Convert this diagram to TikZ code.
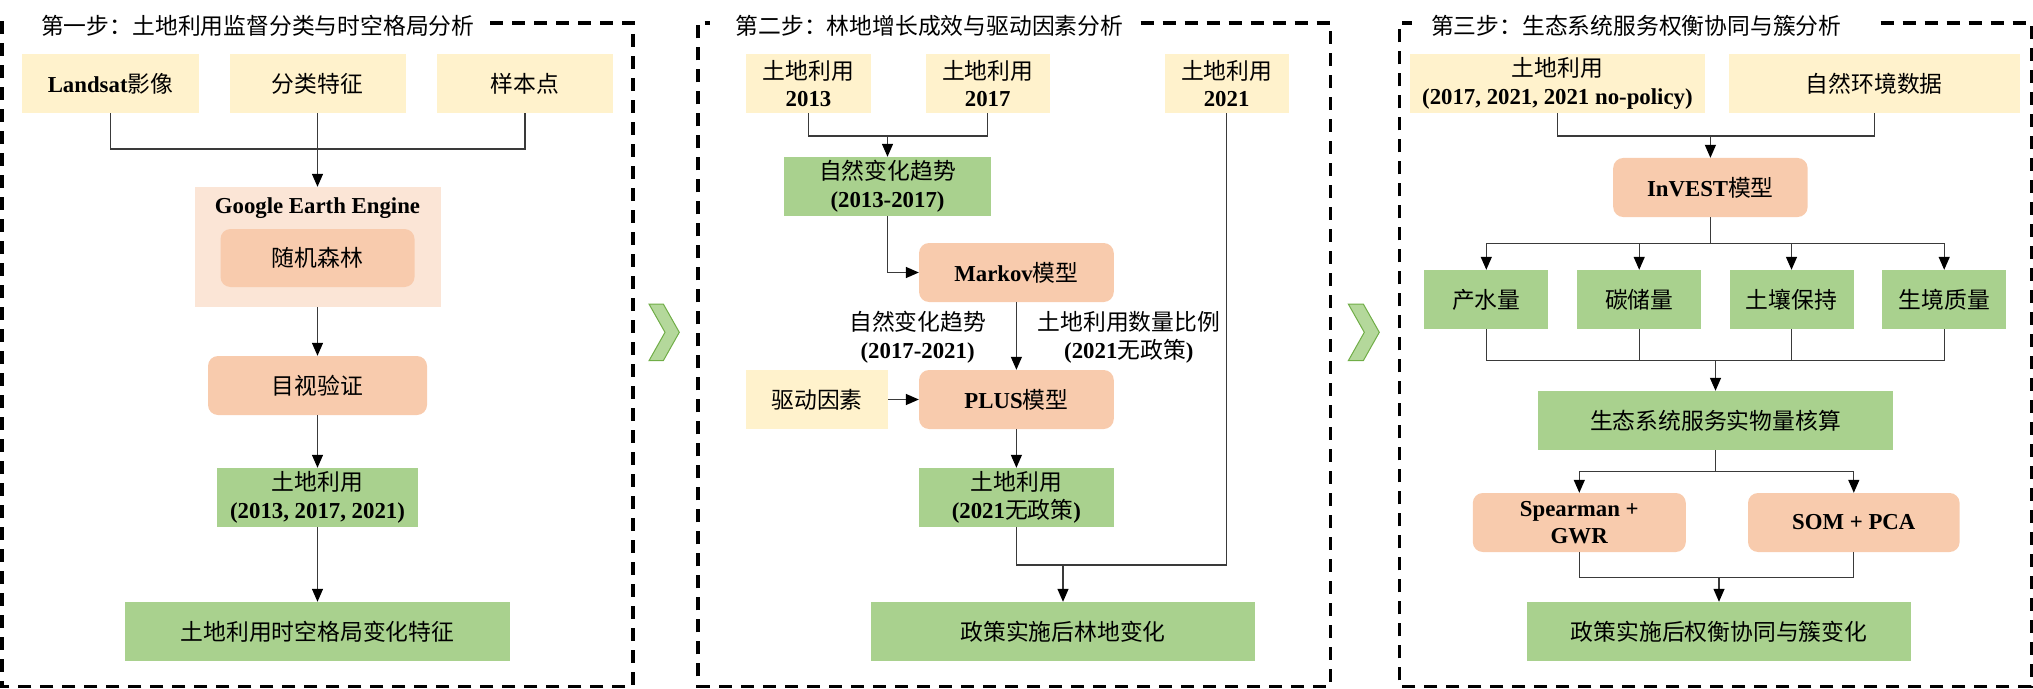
\documentclass[tikz,border=0pt]{standalone}
\usepackage{fontspec}
\setmainfont{Liberation Serif}
\newfontfamily\cjk{Noto Sans CJK SC}
\usetikzlibrary{arrows.meta}
\newcommand\zh[1]{{\cjk #1}}
\newcommand\fs{\fontsize{22.8bp}{27.7bp}\selectfont}
\definecolor{cyellow}{HTML}{FFF2CC}
\definecolor{cpeach}{HTML}{F8CBAD}
\definecolor{clpeach}{HTML}{FBE5D6}
\definecolor{cgreen}{HTML}{A9D18E}
\definecolor{cchevfill}{HTML}{B4D89B}
\definecolor{cchevline}{HTML}{70AD47}
\definecolor{cline}{HTML}{3A3A3A}
\tikzset{
 base/.style={inner sep=0pt, align=center, font=\fs, minimum height=59bp},
 ybox/.style={base, fill=cyellow},
 gbox/.style={base, fill=cgreen},
 pbox/.style={base, fill=cpeach, rounded corners=10bp},
 conn/.style={draw=cline, line width=1.3bp},
 arr/.style={conn, -{Triangle[width=11bp,length=13bp,color=black]}},
 frame/.style={draw=black, line width=3.3bp, dash pattern=on 13bp off 9bp},
 ttl/.style={anchor=west, inner sep=0pt, font=\fs\cjk},
 lbl/.style={inner sep=0pt, align=center, font=\fs},
 chev/.style={fill=cchevfill, draw=cchevline, line width=1bp, line join=miter},
}
\begin{document}
\begin{tikzpicture}[x=1bp,y=-1bp]
\useasboundingbox (0,0) rectangle (2033,689);

% ---------- frames ----------
\draw[frame] (490,23) -- (633,23) -- (633,686.5) -- (2,686.5) -- (2,23) -- (13,23);
\draw[frame] (1140.5,23) -- (1330.5,23) -- (1330.5,686.5) -- (698,686.5) -- (698,23) -- (710,23);
\draw[frame] (1880.6,23) -- (2031.2,23) -- (2031.2,686.5) -- (1399.5,686.5) -- (1399.5,23) -- (1411.5,23);

\node[ttl] (t1) at (41,26) {第一步：土地利用监督分类与时空格局分析};
\node[ttl] (t2) at (735.5,26) {第二步：林地增长成效与驱动因素分析};
\node[ttl] (t3) at (1430.8,26) {第三步：生态系统服务权衡协同与簇分析};

% ---------- chevrons ----------
\draw[chev] (649,304) -- (663.3,304) -- (679.3,332.3) -- (663.3,360.7) -- (649,360.7) -- (665,332.3) -- cycle;
\draw[chev] (1348.3,304) -- (1363.3,304) -- (1379.3,332.3) -- (1363.3,360.7) -- (1348.3,360.7) -- (1364.3,332.3) -- cycle;

% ---------- panel 1 ----------
\node[ybox, minimum width=176bp] (p1a) at (110.5,83.5) {\textbf{Landsat}\zh{影像}};
\node[ybox, minimum width=176bp] (p1b) at (317.5,83.5) {\zh{分类特征}};
\node[ybox, minimum width=176bp] (p1c) at (525,83.5) {\zh{样本点}};
\node[base, fill=clpeach, minimum width=246bp, minimum height=120bp] (gee) at (317.5,247) {};
\node[lbl] (geel) at (317.5,208) {\textbf{Google Earth Engine}};
\node[pbox, minimum width=194bp, minimum height=58bp] (rf) at (317.5,258) {\zh{随机森林}};
\node[pbox, minimum width=219bp] (mv) at (317.5,385.5) {\zh{目视验证}};
\node[gbox, minimum width=201bp] (lu1) at (317.5,497.5) {\zh{土地利用}\\\textbf{(2013, 2017, 2021)}};
\node[gbox, minimum width=384bp] (res1) at (317.5,631.5) {\zh{土地利用时空格局变化特征}};

\coordinate (j1) at (317.5,149);
\draw[conn] (p1a.south) |- (j1) -| (p1c.south);
\draw[arr] (p1b.south) -- (gee.north);
\draw[arr] (gee.south) -- (mv.north);
\draw[arr] (mv.south) -- (lu1.north);
\draw[arr] (lu1.south) -- (res1.north);

% ---------- panel 2 ----------
\node[ybox, minimum width=124.5bp] (lu13) at (808.5,83.5) {\zh{土地利用}\\\textbf{2013}};
\node[ybox, minimum width=124bp] (lu17) at (987.7,83.5) {\zh{土地利用}\\\textbf{2017}};
\node[ybox, minimum width=124bp] (lu21) at (1226.6,83.5) {\zh{土地利用}\\\textbf{2021}};
\node[gbox, minimum width=207bp] (trend1) at (887.5,186.5) {\zh{自然变化趋势}\\\textbf{(2013-2017)}};
\node[pbox, minimum width=194.7bp] (markov) at (1016.4,272.5) {\textbf{Markov}\zh{模型}};
\node[lbl] (lab1) at (917.6,337.5) {\zh{自然变化趋势}\\\textbf{(2017-2021)}};
\node[lbl] (lab2) at (1128.8,337.5) {\zh{土地利用数量比例}\\\textbf{(2021}\zh{无政策}\textbf{)}};
\node[ybox, minimum width=141.7bp] (drive) at (817,399.5) {\zh{驱动因素}};
\node[pbox, minimum width=194.7bp] (plus) at (1016.4,399.5) {\textbf{PLUS}\zh{模型}};
\node[gbox, minimum width=194.7bp] (lu21np) at (1016.4,497.5) {\zh{土地利用}\\\textbf{(2021}\zh{无政策}\textbf{)}};
\node[gbox, minimum width=384bp] (res2) at (1063,631.5) {\zh{政策实施后林地变化}};

\coordinate (j2) at (887.5,136);
\draw[conn] (lu13.south) |- (j2) -| (lu17.south);
\draw[arr] (j2) -- (trend1.north);
\draw[arr] (trend1.south) |- (markov.west);
\draw[arr] (markov.south) -- (plus.north);
\draw[arr] (drive.east) -- (plus.west);
\draw[arr] (plus.south) -- (lu21np.north);
\coordinate (j3) at (1063,565);
\draw[conn] (lu21np.south) |- (j3) -| (lu21.south);
\draw[arr] (j3) -- (res2.north);

% ---------- panel 3 ----------
\node[ybox, minimum width=294.4bp] (lu3) at (1557.4,83.5) {\zh{土地利用}\\\textbf{(2017, 2021, 2021 no-policy)}};
\node[ybox, minimum width=290.6bp] (env) at (1874.3,83.5) {\zh{自然环境数据}};
\node[pbox, minimum width=194.4bp] (invest) at (1710.4,187.5) {\textbf{InVEST}\zh{模型}};
\node[gbox, minimum width=124bp] (es1) at (1486.3,299.5) {\zh{产水量}};
\node[gbox, minimum width=124bp] (es2) at (1639.2,299.5) {\zh{碳储量}};
\node[gbox, minimum width=124bp] (es3) at (1791.5,299.5) {\zh{土壤保持}};
\node[gbox, minimum width=124bp] (es4) at (1944.2,299.5) {\zh{生境质量}};
\node[gbox, minimum width=355bp] (acc) at (1715.5,420.5) {\zh{生态系统服务实物量核算}};
\node[pbox, minimum width=213bp] (sp) at (1579.3,522.5) {\textbf{Spearman +}\\\textbf{GWR}};
\node[pbox, minimum width=211.6bp] (som) at (1853.8,522.5) {\textbf{SOM + PCA}};
\node[gbox, minimum width=384bp] (res3) at (1719,631.5) {\zh{政策实施后权衡协同与簇变化}};

\coordinate (j4) at (1710.4,136);
\draw[conn] (lu3.south) |- (j4) -| (env.south);
\draw[arr] (j4) -- (invest.north);
\coordinate (j5) at (1710.4,243.7);
\draw[conn] (invest.south) -- (j5);
\draw[arr] (j5) -| (es1.north);
\draw[arr] (j5) -| (es2.north);
\draw[arr] (j5) -| (es3.north);
\draw[arr] (j5) -| (es4.north);
\coordinate (j6) at (1715.5,360.7);
\draw[conn] (es1.south) |- (j6) -| (es4.south);
\draw[conn] (es2.south) |- (j6);
\draw[conn] (es3.south) |- (j6);
\draw[arr] (j6) -- (acc.north);
\coordinate (j7) at (1715.5,471.7);
\draw[conn] (acc.south) -- (j7);
\draw[arr] (j7) -| (sp.north);
\draw[arr] (j7) -| (som.north);
\coordinate (j8) at (1719,577.3);
\draw[conn] (sp.south) |- (j8) -| (som.south);
\draw[arr] (j8) -- (res3.north);
\end{tikzpicture}
\end{document}
